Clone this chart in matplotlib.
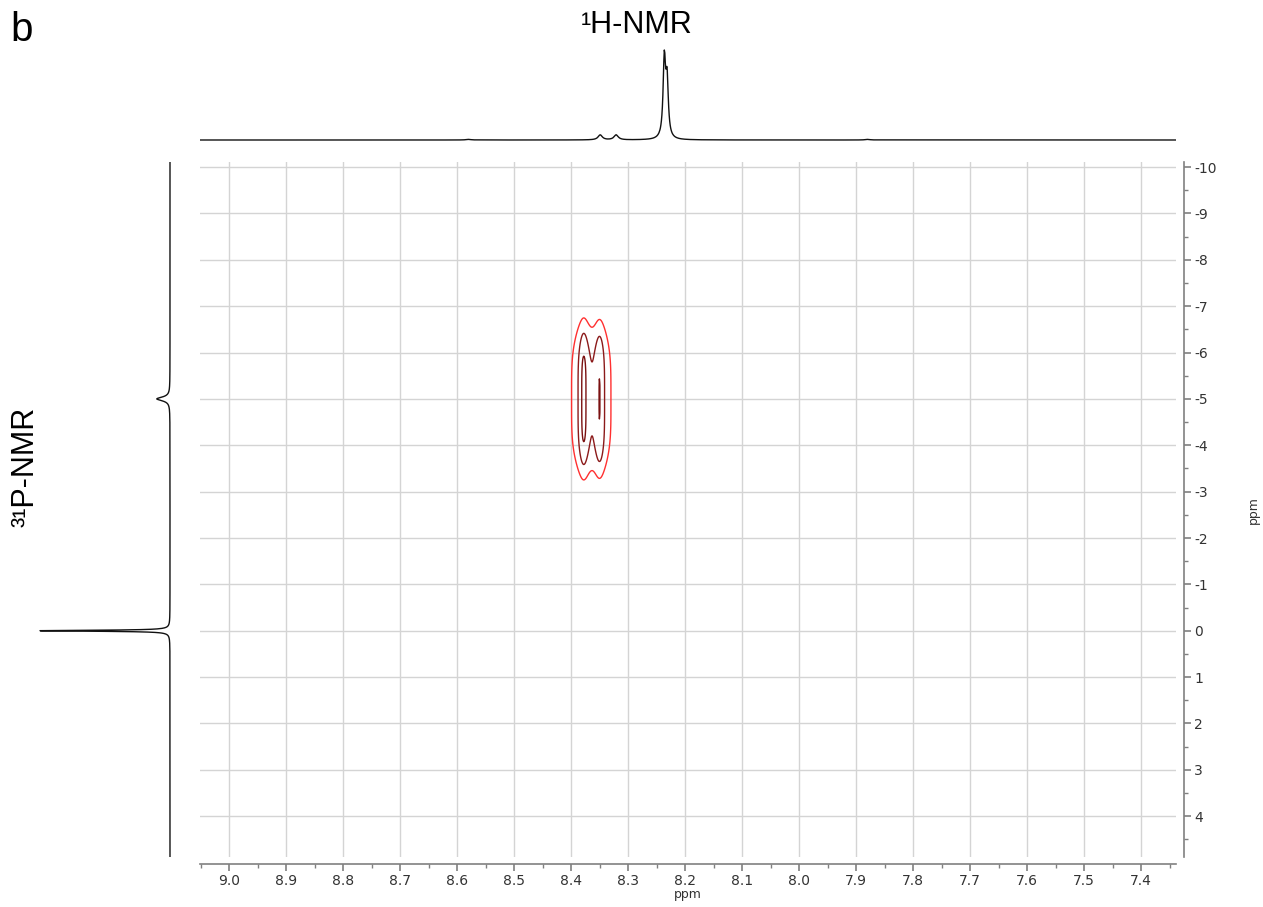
import numpy as np
import matplotlib
matplotlib.use("Agg")
import matplotlib.pyplot as plt
from matplotlib.ticker import MultipleLocator, FormatStrFormatter

plt.rcParams["axes.unicode_minus"] = False

# ---- data ----
# 1H projection: peak centres (ppm), heights (rel.), half-widths (ppm)
h_shift = [8.2365, 8.2317, 8.349, 8.321, 8.58, 7.88]
h_height = [0.78, 0.55, 0.05, 0.05, 0.006, 0.006]
h_width = [0.0026, 0.0026, 0.0045, 0.0045, 0.005, 0.005]

# 31P projection
p_shift = [0.0, -5.0]
p_height = [1.0, 0.10]
p_width = [0.013, 0.05]

# 2D cross peaks (1H ppm, 31P ppm, intensity)
cp_h = [8.378, 8.350]
cp_p = [-5.0, -5.0]
cp_amp = [1.0, 0.852]
cp_wh = 0.009    # half-width along 1H
cp_wp = 1.51     # width along 31P

contour_levels = [0.18, 0.50, 0.94]
contour_colors = ["#ff3030", "#8b1a1a", "#7a1010"]

x_lim = (9.051, 7.339)
y_lim = (4.88, -10.11)

W, H = 1263, 907
fig = plt.figure(figsize=(W / 100, H / 100), dpi=100)

def fr(left, top, right, bottom):
    return [left / W, 1 - bottom / H, (right - left) / W, (bottom - top) / H]

# ---- main 2D axes ----
ax = fig.add_axes(fr(200, 162, 1176, 857))
hx = np.linspace(x_lim[1], x_lim[0], 2000)
py = np.linspace(y_lim[1], y_lim[0], 1500)
X, Y = np.meshgrid(hx, py)
Z = np.zeros_like(X)
for h0, p0, a in zip(cp_h, cp_p, cp_amp):
    Z += a / (1 + ((X - h0) / cp_wh) ** 2) * np.exp(-((Y - p0) / cp_wp) ** 4)
ax.contour(X, Y, Z, levels=contour_levels, colors=contour_colors, linewidths=1.0)

ax.set_xlim(*x_lim)
ax.set_ylim(*y_lim)
ax.xaxis.set_major_locator(MultipleLocator(0.1))
ax.xaxis.set_minor_locator(MultipleLocator(0.05))
ax.xaxis.set_major_formatter(FormatStrFormatter("%.1f"))
ax.yaxis.set_major_locator(MultipleLocator(1))
ax.yaxis.set_minor_locator(MultipleLocator(0.5))
ax.yaxis.set_major_formatter(FormatStrFormatter("%d"))
ax.yaxis.tick_right()
ax.grid(True, which="major", color="#d4d4d4", lw=1.0)
ax.set_axisbelow(True)
for s in ("top", "left"):
    ax.spines[s].set_visible(False)
ax.spines["bottom"].set_position(("outward", 5))
ax.spines["right"].set_position(("outward", 6))
for s in ("bottom", "right"):
    ax.spines[s].set_color("#808080")
    ax.spines[s].set_linewidth(1.2)
ax.tick_params(which="major", length=5, width=1.2, color="#808080",
               labelsize=10, labelcolor="#333333", pad=2)
ax.tick_params(which="minor", length=3, width=1.0, color="#808080")
ax.set_xlabel("ppm", fontsize=9, color="#333333", labelpad=0)
fig.text(1253 / W, 1 - 510 / H, "ppm", rotation=90, ha="center", va="center",
         fontsize=9, color="#333333")

# ---- 1H projection (top) ----
axt = fig.add_axes(fr(200, 40, 1176, 150))
spec_h = np.zeros_like(hx)
for c, a, w in zip(h_shift, h_height, h_width):
    spec_h += a / (1 + ((hx - c) / w) ** 2)
axt.plot(hx, spec_h, color="#111111", lw=1.0)
axt.set_xlim(*x_lim)
# baseline at y=140 px, top of main peak near 50 px
axt.set_ylim(-10 / 90 * spec_h.max(), spec_h.max() * 100 / 90)
axt.axis("off")

# ---- 31P projection (left) ----
axl = fig.add_axes(fr(30, 162, 180, 857))
py_line = np.linspace(4.88, -10.3, 4000)
spec_p = np.zeros_like(py_line)
for c, a, w in zip(p_shift, p_height, p_width):
    spec_p += a / (1 + ((py_line - c) / w) ** 2)
axl.plot(spec_p, py_line, color="#111111", lw=1.0)
axl.set_ylim(*y_lim)
# baseline at x=170 px, peak tip near 40 px
axl.set_xlim(spec_p.max() * 140 / 130, -10 / 130 * spec_p.max())
axl.axis("off")

# ---- labels ----
fig.text(637 / W, 1 - 25 / H, "¹H-NMR", ha="center", va="center",
         fontsize=22, family=["Liberation Sans", "DejaVu Sans"])
fig.text(26 / W, 1 - 467 / H, "³¹P-NMR", ha="center", va="center", rotation=90,
         fontsize=22, family=["Liberation Sans", "DejaVu Sans"])
fig.text(22 / W, 1 - 30 / H, "b", ha="center", va="center",
         fontsize=29, family=["Liberation Sans", "DejaVu Sans"])

fig.savefig("out.png", dpi=100, facecolor="white")
